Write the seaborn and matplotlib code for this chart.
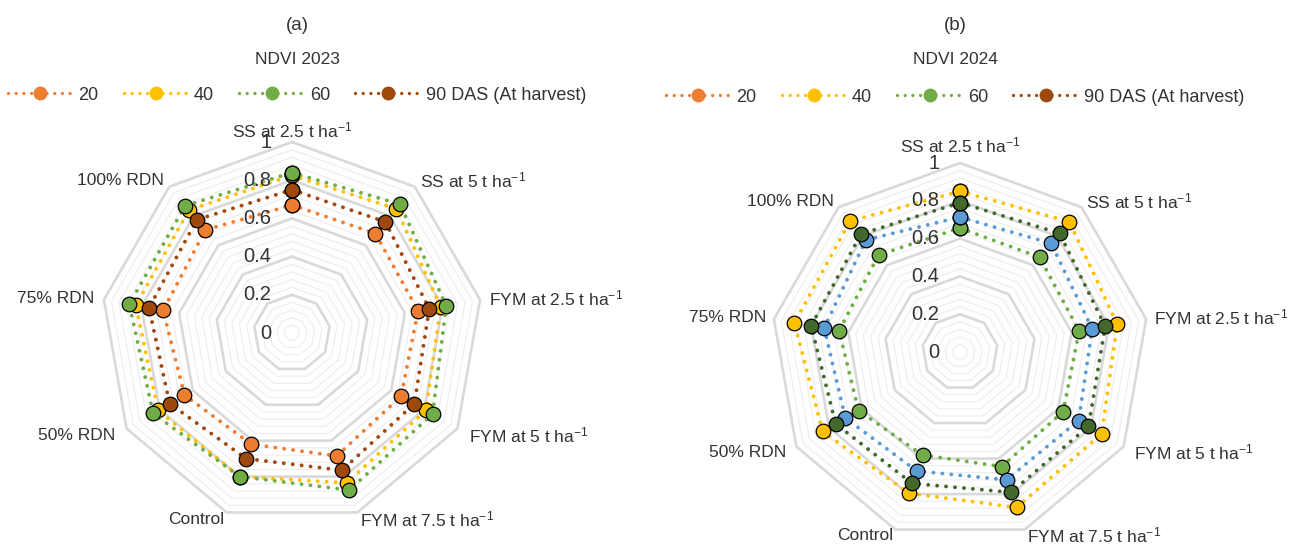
import numpy as np
import pandas as pd
import matplotlib.pyplot as plt
from matplotlib.lines import Line2D
import seaborn as sns

# categories (clockwise from top)
categories = ['SS at 2.5 t ha$^{-1}$', 'SS at 5 t ha$^{-1}$', 'FYM at 2.5 t ha$^{-1}$',
              'FYM at 5 t ha$^{-1}$', 'FYM at 7.5 t ha$^{-1}$', 'Control',
              '50% RDN', '75% RDN', '100% RDN']
legend_labels = ['20', '40', '60', '90 DAS (At harvest)']

# NDVI 2023
ndvi23_20 = [0.67, 0.68, 0.67, 0.66, 0.685, 0.62, 0.65, 0.685, 0.705]
ndvi23_40 = [0.825, 0.85, 0.79, 0.81, 0.835, 0.80, 0.81, 0.83, 0.84]
ndvi23_60 = [0.84, 0.88, 0.82, 0.85, 0.875, 0.80, 0.84, 0.865, 0.87]
ndvi23_90 = [0.75, 0.76, 0.73, 0.74, 0.765, 0.70, 0.74, 0.76, 0.775]

# NDVI 2024 (series as drawn in the figure)
ndvi24_yellow = [0.85, 0.90, 0.845, 0.865, 0.875, 0.795, 0.84, 0.89, 0.905]
ndvi24_ltgreen = [0.656, 0.655, 0.64, 0.63, 0.645, 0.58, 0.62, 0.65, 0.67]
ndvi24_blue = [0.714, 0.75, 0.71, 0.725, 0.72, 0.67, 0.70, 0.73, 0.775]
ndvi24_dkgreen = [0.79, 0.82, 0.78, 0.785, 0.79, 0.74, 0.76, 0.80, 0.815]

legend_colors = ['#ED7D31', '#FFC000', '#70AD47', '#9E480E']

sns.set_style('white')
plt.rcParams['font.family'] = ['Liberation Sans', 'DejaVu Sans']
plt.rcParams['mathtext.fontset'] = 'custom'
plt.rcParams['mathtext.rm'] = 'Liberation Sans'
plt.rcParams['mathtext.default'] = 'rm'
TXT = '#333333'

angles = np.linspace(0, 2 * np.pi, len(categories), endpoint=False)
dots = (0, (0.01, 2.3))


def long_table(series):
    rows = []
    for name, vals in series.items():
        for th, v in zip(list(angles) + [2 * np.pi], list(vals) + [vals[0]]):
            rows.append({'series': name, 'theta': th, 'ndvi': v})
    return pd.DataFrame(rows)


def radar(ax, series, palette, label_r):
    ax.set_theta_zero_location('N')
    ax.set_theta_direction(-1)
    ax.grid(False)
    ax.spines['polar'].set_visible(False)
    ax.set_facecolor('none')

    th = list(angles) + [2 * np.pi]
    for r in np.arange(0.04, 1.001, 0.04):
        major = abs(r / 0.2 - round(r / 0.2)) < 1e-6
        ax.plot(th, [r] * len(th), color='#D9D9D9' if major else '#EDEDED',
                lw=1.9 if major else 0.8, zorder=1, clip_on=False)

    df = long_table(series)
    sns.lineplot(data=df, x='theta', y='ndvi', hue='series', palette=palette,
                 sort=False, estimator=None, legend=False, ax=ax,
                 lw=2.8, linestyle=dots, dash_capstyle='round',
                 marker='o', markersize=10.5, markeredgecolor='black',
                 markeredgewidth=0.9, clip_on=False, zorder=3)

    ax.set_ylim(0, 1)
    ax.set_xticks([])
    ax.set_yticks([])
    ax.set_xlabel('')
    ax.set_ylabel('')

    for v in [0, 0.2, 0.4, 0.6, 0.8, 1]:
        ax.annotate(f'{v:g}', xy=(0, v), xytext=(-15, 0), textcoords='offset points',
                    ha='right', va='center', fontsize=14.5, color=TXT)

    for i, (ang, lab) in enumerate(zip(angles, categories)):
        ring = min(i, len(categories) - i)  # 0 top, 1..4 going down
        ha = 'center' if i == 0 else ('left' if i <= 4 else 'right')
        ax.text(ang, label_r[ring], lab, ha=ha, va='center', fontsize=12.5, color=TXT)


fig = plt.figure(figsize=(12.9, 5.45), dpi=100)
ax_a = fig.add_axes([0.0783, 0.0385, 0.2961, 0.7009], projection='polar')
ax_b = fig.add_axes([0.5977, 0.0073, 0.2930, 0.6936], projection='polar')

radar(ax_a, {'20': ndvi23_20, '40': ndvi23_40, '60': ndvi23_60, '90': ndvi23_90},
      legend_colors, (1.06, 1.04, 1.05, 1.07, 1.04))
radar(ax_b, {'y': ndvi24_yellow, 'l': ndvi24_ltgreen, 'b': ndvi24_blue, 'd': ndvi24_dkgreen},
      ['#FFC000', '#70AD47', '#5B9BD5', '#43682B'], (1.095, 1.04, 1.04, 1.06, 1.035))

handles = [Line2D([0], [0], color=c, lw=2.4, linestyle=dots, dash_capstyle='round',
                  marker='o', markersize=10, markeredgewidth=0) for c in legend_colors]

for cx, ty, ly, tag, title in [(297, 25, 95, '(a)', 'NDVI 2023'), (955, 25, 97, '(b)', 'NDVI 2024')]:
    fig.text(cx / 1290, 1 - ty / 545, tag, ha='center', va='center', fontsize=13.5, color=TXT)
    fig.text(cx / 1290, 1 - 59 / 545, title, ha='center', va='center', fontsize=12.5, color=TXT)
    fig.legend(handles, legend_labels, loc='center', bbox_to_anchor=(cx / 1290, 1 - ly / 545),
               ncol=4, frameon=False, fontsize=13, handlelength=3.6, handletextpad=0.3,
               columnspacing=1.4, numpoints=1, labelcolor=TXT)

fig.savefig('out.png', dpi=100)
